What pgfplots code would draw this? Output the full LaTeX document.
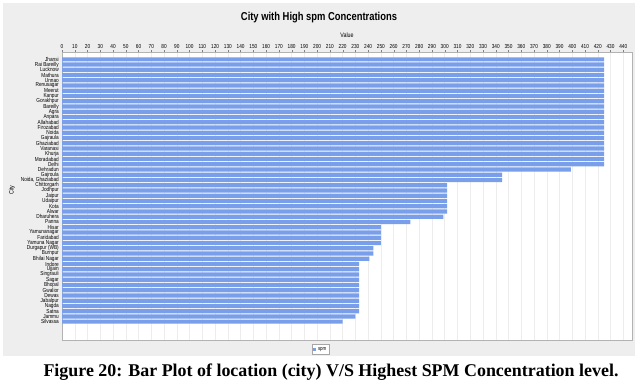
\documentclass[border=0pt]{standalone}
\usepackage{pgfplots}
\pgfplotsset{compat=1.18}
\usepackage{fontspec}
\setmainfont{Liberation Serif}
\newfontfamily\narrow[FakeStretch=0.82]{Liberation Sans}
\definecolor{barblue}{RGB}{121,159,235}
\definecolor{panelgray}{RGB}{238,238,238}
\begin{document}
\begin{tikzpicture}
\useasboundingbox (0bp,0bp) rectangle (643bp,-388bp);
\fill[white] (0bp,0bp) rectangle (643bp,-388bp);
\fill[panelgray] (3bp,-3bp) rectangle (635bp,-356bp);
\begin{axis}[
  at={(62bp,-340bp)}, anchor=south west,
  scale only axis, width=569.7bp, height=288bp,
  xmin=0, xmax=446.6,
  ymin=-1.4, ymax=53.5, y dir=reverse,
  axis background/.style={fill=white},
  axis line style={gray!60},
  xtick={0,10,...,440},
  xticklabel pos=right, xtick pos=right,
  tick align=outside,
  major tick length=2bp,
  xtick style={gray},
  xmajorgrids, grid style={gray!14, thin},
  ytick={0,...,50},
  ytick style={draw=none},
  ytick pos=left,
  /pgf/number format/assume math mode=true,
  xticklabel style={font=\narrow\fontsize{5.8}{6}\selectfont, inner sep=1pt},
  yticklabel style={font=\narrow\fontsize{5.8}{5.8}\selectfont, inner sep=1pt},
  yticklabels={Jhansi, Rai Bareilly, Lucknow, Mathura, Unnao, Renusagar, Meerut, Kanpur, Gorakhpur, Bareilly, Agra, Anpara, Allahabad, Firozabad, Noida, Gajraula, Ghaziabad, Varanasi, Khurja, Moradabad, Delhi, Dehradun, Gajroula, {Noida, Ghaziabad}, Chittorgarh, Jodhpur, Jaipur, Udaipur, Kota, Alwar, Dharuhera, Panna, Hisar, Yamunanagar, Faridabad, Yamuna Nagar, Durgapur (WB), Burnpur, Bhilai Nagar, Indore, Ujjain, Singrauli, Sagar, Bhopal, Gwalior, Dewas, Jabalpur, Nagda, Satna, Jammu, Silvassa},
  legend style={at={(axis description cs:0.454,0)}, anchor=north, yshift=-4bp,
    font=\narrow\fontsize{5.5}{6}\selectfont, draw=gray!70, fill=white,
    inner sep=1pt, row sep=0pt},
  legend image code/.code={\fill[barblue] (0bp,-1.6bp) rectangle (3.2bp,1.6bp);},
]
\addplot[xbar, bar width=4.2bp, fill=barblue, draw=none] coordinates {
(425,0) (425,1) (425,2) (425,3) (425,4) (425,5) (425,6) (425,7) (425,8) (425,9)
(425,10) (425,11) (425,12) (425,13) (425,14) (425,15) (425,16) (425,17) (425,18) (425,19)
(425,20) (399,21) (345,22) (345,23) (302,24) (302,25) (302,26) (302,27) (302,28) (302,29)
(299,30) (273,31) (250,32) (250,33) (250,34) (250,35) (244,36) (244,37) (241,38) (233,39)
(233,40) (233,41) (233,42) (233,43) (233,44) (233,45) (233,46) (233,47) (233,48) (230,49)
(220,50)
};
\addlegendentry{spm}
\end{axis}
\node[font=\narrow\bfseries\fontsize{11.5}{12}\selectfont] at (319bp,-18bp) {City with High spm Concentrations};
\node[font=\narrow\fontsize{6.5}{7}\selectfont] at (347bp,-35bp) {Value};
\node[font=\narrow\fontsize{6.5}{7}\selectfont, rotate=90] at (12bp,-190bp) {City};
\node[font=\bfseries\fontsize{18}{20}\selectfont] at (331bp,-372bp) {Figure 20: Bar Plot of location (city) V/S Highest SPM Concentration level.};
\end{tikzpicture}
\end{document}
